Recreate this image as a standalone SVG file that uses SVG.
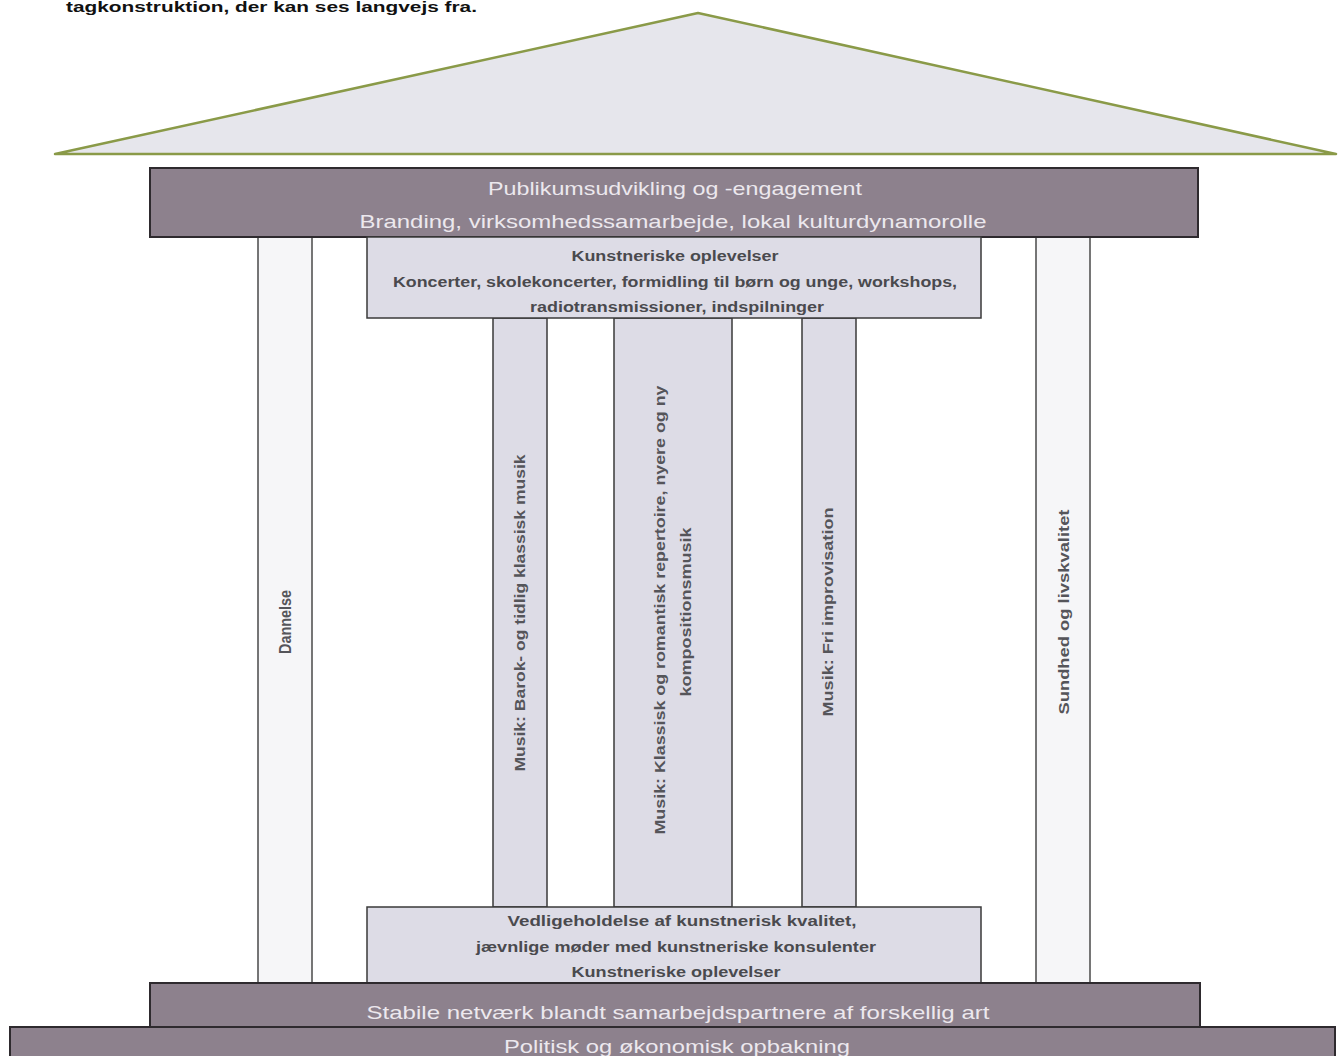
<svg xmlns="http://www.w3.org/2000/svg" width="1338" height="1056" viewBox="0 0 1338 1056">
<style>
.beam{fill:#8d818d;stroke:#2e2a2e;stroke-width:2}
.box{fill:#dddce6;stroke:#3a3a3a;stroke-width:1.5}
.col{fill:#dddce6;stroke:#3a3a3a;stroke-width:1.5}
.wcol{fill:#f6f6f8;stroke:#4a4a4a;stroke-width:1.5}
.bt{font-family:"Liberation Sans",Arial,sans-serif;font-size:19px;fill:#ece8ee;text-anchor:middle}
.dt{font-family:"Liberation Sans",Arial,sans-serif;font-size:14px;font-weight:bold;fill:#4a4a4e;text-anchor:middle}
.vt{font-family:"Liberation Sans",Arial,sans-serif;font-size:15px;font-weight:bold;fill:#55555a;text-anchor:middle}
</style>
<rect width="1338" height="1056" fill="#ffffff"/>
<text x="66" y="12" font-family="Liberation Sans,Arial,sans-serif" font-size="15" font-weight="bold" fill="#111" textLength="411" lengthAdjust="spacingAndGlyphs">tagkonstruktion, der kan ses langvejs fra.</text>
<g id="roof">
<polygon points="698,13 1336,154 55,154" fill="#e6e6ec" stroke="#8a9a48" stroke-width="2.5" stroke-linejoin="round"/>
</g>
<g id="connectors"></g>
<g id="dannelse">
<rect class="wcol" x="258" y="237" width="54" height="746"/>
<text class="vt" transform="translate(291,622) rotate(-90)" style="font-size:17px" textLength="64" lengthAdjust="spacingAndGlyphs">Dannelse</text>
</g>
<g id="sundhed">
<rect class="wcol" x="1036" y="237" width="54" height="746"/>
<text class="vt" transform="translate(1069,612) rotate(-90)" textLength="205" lengthAdjust="spacingAndGlyphs">Sundhed og livskvalitet</text>
</g>
<g id="barok">
<rect class="col" x="493" y="318" width="54" height="589"/>
<text class="vt" transform="translate(525,613) rotate(-90)" textLength="317" lengthAdjust="spacingAndGlyphs">Musik: Barok- og tidlig klassisk musik</text>
</g>
<g id="klassisk">
<rect class="col" x="614" y="318" width="118" height="589"/>
<text class="vt" transform="translate(665,610) rotate(-90)" textLength="449" lengthAdjust="spacingAndGlyphs">Musik: Klassisk og romantisk repertoire, nyere og ny</text>
<text class="vt" transform="translate(691,612) rotate(-90)" textLength="169" lengthAdjust="spacingAndGlyphs">kompositionsmusik</text>
</g>
<g id="fri">
<rect class="col" x="802" y="318" width="54" height="589"/>
<text class="vt" transform="translate(833,612) rotate(-90)" textLength="209" lengthAdjust="spacingAndGlyphs">Musik: Fri improvisation</text>
</g>
<g id="publikum">
<rect class="beam" x="150" y="168" width="1048" height="69"/>
<text class="bt" x="675" y="195" textLength="374" lengthAdjust="spacingAndGlyphs">Publikumsudvikling og -engagement</text>
<text class="bt" x="673" y="228" textLength="627" lengthAdjust="spacingAndGlyphs">Branding, virksomhedssamarbejde, lokal kulturdynamorolle</text>
</g>
<g id="kunst-top">
<rect class="box" x="367" y="237" width="614" height="81"/>
<text class="dt" x="675" y="261" textLength="207" lengthAdjust="spacingAndGlyphs">Kunstneriske oplevelser</text>
<text class="dt" x="675" y="287" textLength="564" lengthAdjust="spacingAndGlyphs">Koncerter, skolekoncerter, formidling til børn og unge, workshops,</text>
<text class="dt" x="677" y="312" textLength="294" lengthAdjust="spacingAndGlyphs">radiotransmissioner, indspilninger</text>
</g>
<g id="kunst-bottom">
<rect class="box" x="367" y="907" width="614" height="76"/>
<text class="dt" x="682" y="926" textLength="349" lengthAdjust="spacingAndGlyphs">Vedligeholdelse af kunstnerisk kvalitet,</text>
<text class="dt" x="676" y="952" textLength="400" lengthAdjust="spacingAndGlyphs">jævnlige møder med kunstneriske konsulenter</text>
<text class="dt" x="676" y="977" textLength="209" lengthAdjust="spacingAndGlyphs">Kunstneriske oplevelser</text>
</g>
<g id="stabile">
<rect class="beam" x="150" y="983" width="1050" height="44"/>
<text class="bt" x="678" y="1019" textLength="623" lengthAdjust="spacingAndGlyphs">Stabile netværk blandt samarbejdspartnere af forskellig art</text>
</g>
<g id="politisk">
<rect class="beam" x="10" y="1027" width="1325" height="40"/>
<text class="bt" x="677" y="1053" textLength="346" lengthAdjust="spacingAndGlyphs">Politisk og økonomisk opbakning</text>
</g>
</svg>
